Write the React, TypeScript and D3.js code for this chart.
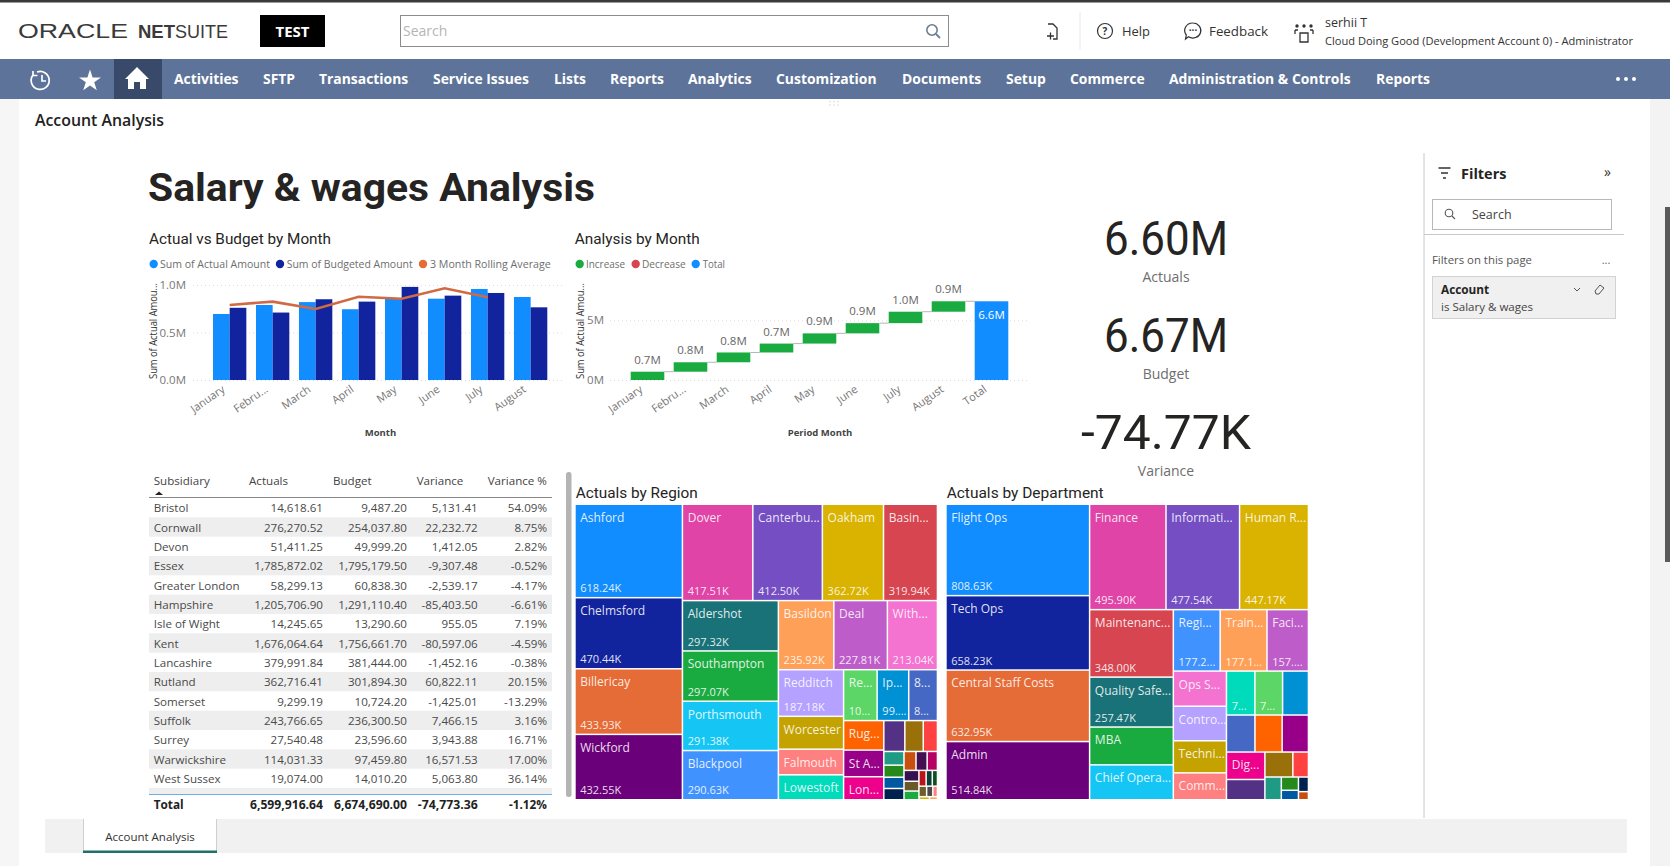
import { useEffect, useRef } from "react";
import {
  select,
  scaleLinear,
  scaleBand,
  axisLeft,
  axisBottom,
  line,
  symbol,
  symbolStar,
  hierarchy,
  treemap,
  treemapDice,
  treemapSlice,
  formatLocale,
} from "d3";

const UI_FONT = "'Open Sans', 'Noto Sans', sans-serif";
const DIN_FONT = "Roboto, sans-serif";

// ---- header ----
const navItems = ["Activities", "SFTP", "Transactions", "Service Issues", "Lists", "Reports", "Analytics", "Customization", "Documents", "Setup", "Commerce", "Administration & Controls", "Reports"];
const navStarts = [174, 263, 319, 433, 554, 610, 688, 776, 902, 1006, 1070, 1169, 1376];

// ---- column + line chart ----
const months = ["January", "February", "March", "April", "May", "June", "July", "August"];
const monthLabels = ["January", "Febru...", "March", "April", "May", "June", "July", "August"];
const actualAmounts = [695000, 790000, 820000, 745000, 855000, 856000, 958000, 874000];
const budgetAmounts = [760000, 710000, 850000, 825000, 980000, 888000, 916000, 765000];
const rollingAverage = [790000, 825000, 747000, 877000, 856000, 965000, 870000];

// ---- table ----
const subsidiaries = ["Bristol", "Cornwall", "Devon", "Essex", "Greater London", "Hampshire", "Isle of Wight", "Kent", "Lancashire", "Rutland", "Somerset", "Suffolk", "Surrey", "Warwickshire", "West Sussex"];
const tableActuals = [14618.61, 276270.52, 51411.25, 1785872.02, 58299.13, 1205706.9, 14245.65, 1676064.64, 379991.84, 362716.41, 9299.19, 243766.65, 27540.48, 114031.33, 19074.0];
const tableBudget = [9487.2, 254037.8, 49999.2, 1795179.5, 60838.3, 1291110.4, 13290.6, 1756661.7, 381444.0, 301894.3, 10724.2, 236300.5, 23596.6, 97459.8, 14010.2];
const tableVariance = [5131.41, 22232.72, 1412.05, -9307.48, -2539.17, -85403.5, 955.05, -80597.06, -1452.16, 60822.11, -1425.01, 7466.15, 3943.88, 16571.53, 5063.8];
const tablePct = [54.09, 8.75, 2.82, -0.52, -4.17, -6.61, 7.19, -4.59, -0.38, 20.15, -13.29, 3.16, 16.71, 17.0, 36.14];
const tableTotals = [6599916.64, 6674690.0, -74773.36];
const tableTotalPct = -1.12;

// ---- treemaps ----
const palette = ["#118DFF", "#12239E", "#E66C37", "#6B007B", "#E044A7", "#744EC2", "#D9B300", "#D64550", "#197278", "#1AAB40", "#15C6F4", "#4092FF", "#FFA058", "#BE5DC9", "#F472D0", "#B5A1FF", "#C4A200", "#FF8080", "#00DBBC", "#5BD667", "#0091D5", "#4668C5", "#FF6300", "#99008A", "#EC008C", "#533285", "#99700A", "#FF4141", "#1F9A85", "#25891C", "#0057A2", "#002050", "#C94F0F", "#450F54", "#B60064", "#34124F", "#6A5A29", "#1AAB40", "#BA141A", "#0C3D37", "#0B511F", "#6F5E2C", "#4A4A4A", "#FF8080", "#D9B300", "#FFA058"];

const regionNames = ["Ashford", "Chelmsford", "Billericay", "Wickford", "Dover", "Canterbu...", "Oakham", "Basin...", "Aldershot", "Southampton", "Porthsmouth", "Blackpool", "Basildon", "Deal", "With...", "Redditch", "Worcester", "Falmouth", "Lowestoft", "Re...", "Ip...", "8...", "Rug...", "St A...", "Lon..."];
const regionValues = [618.24, 470.44, 433.93, 432.55, 417.51, 412.5, 362.72, 319.94, 297.32, 297.07, 291.38, 290.63, 235.92, 227.81, 213.04, 187.18, 132, 103, 100, 105, 99, 90, 73, 66, 57, 40, 35, 27, 17, 15, 14, 14, 14, 13, 12, 10, 9, 8, 7, 6, 5, 5, 4, 3, 2, 1.5];
const regionValueLabels = ["618.24K", "470.44K", "433.93K", "432.55K", "417.51K", "412.50K", "362.72K", "319.94K", "297.32K", "297.07K", "291.38K", "290.63K", "235.92K", "227.81K", "213.04K", "187.18K", "", "", "", "10...", "99....", "8..."];
const regionStripSizes = [4, 4, 4, 3, 4, 3, 3, 3, 4, 3, 3, 3, 3, 2];
const regionStripDirs = ["col", "row", "col", "row", "col", "row", "col", "row", "col", "row", "col", "row", "row", "row"];

const departmentNames = ["Flight Ops", "Tech Ops", "Central Staff Costs", "Admin", "Finance", "Informati...", "Human R...", "Maintenanc...", "Quality Safe...", "MBA", "Chief Opera...", "Regi...", "Train...", "Faci...", "Ops S...", "Contro...", "Techni...", "Comm...", "", "", "", "", "", "", "Dig..."];
const departmentValues = [808.63, 658.23, 632.95, 514.84, 495.9, 477.54, 447.17, 348.0, 257.47, 195, 180, 177.2, 177.1, 157, 115, 113, 105, 88, 77, 75, 70, 65, 62, 60, 65, 48, 43, 24, 23, 14, 10, 9, 5];
const departmentValueLabels = ["808.63K", "658.23K", "632.95K", "514.84K", "495.90K", "477.54K", "447.17K", "348.00K", "257.47K", "", "", "177.2...", "177.1...", "157....", "", "", "", "", "7...", "7..."];
const departmentStripSizes = [4, 3, 4, 3, 4, 3, 3, 2, 2, 1, 2, 2];
const departmentStripDirs = ["col", "row", "col", "row", "col", "row", "row", "col", "row", "col", "col", "col"];

type TextOpts = { size?: number; weight?: number | string; fill?: string; anchor?: string; family?: string; len?: number; rotate?: number };
type Tile = { split?: string; name?: string; valueLabel?: string; color?: string; value?: number; children?: Tile[] };

const fmt = formatLocale({ decimal: ".", thousands: ",", grouping: [3], currency: ["", ""], minus: "-" });
const money = fmt.format(",.2f");
const pct = (d: number) => fmt.format(".2f")(d) + "%";

function put(g: any, x: number, y: number, str: string, o: TextOpts = {}) {
  const t = g
    .append("text")
    .attr("x", x)
    .attr("y", y)
    .attr("dy", "0.35em")
    .attr("font-family", o.family ?? UI_FONT)
    .attr("font-size", o.size ?? 12)
    .attr("font-weight", o.weight ?? 400)
    .attr("fill", o.fill ?? "#333")
    .attr("text-anchor", o.anchor ?? "start")
    .text(str);
  if (o.len) t.attr("textLength", o.len).attr("lengthAdjust", "spacingAndGlyphs");
  if (o.rotate) t.attr("transform", `rotate(${o.rotate} ${x} ${y})`);
  return t;
}

// builds nested strips (one column or row at a time) so d3.treemap lays them out like Power BI does
function buildTiles(names: string[], values: number[], valueLabels: string[], sizes: number[], dirs: string[]): Tile {
  const strips: Tile[] = [];
  let i = 0;
  sizes.forEach((n, s) => {
    const kids: Tile[] = [];
    for (let k = 0; k < n; k++, i++) {
      kids.push({ name: names[i] ?? "", valueLabel: valueLabels[i] ?? "", color: palette[i], value: values[i] });
    }
    strips.push({ split: dirs[s] === "col" ? "y" : "x", children: kids });
  });
  let node = strips[strips.length - 1];
  for (let s = strips.length - 2; s >= 0; s--) {
    node = { split: dirs[s] === "col" ? "x" : "y", children: [strips[s], node] };
  }
  return node;
}

function drawTreemap(svg: any, x: number, y: number, w: number, h: number, root: Tile) {
  const nodes = hierarchy<Tile>(root).sum((d) => d.value ?? 0);
  const layout = treemap<Tile>()
    .size([w, h])
    .paddingInner(1.5)
    .tile((node: any, x0, y0, x1, y1) => {
      (node.data.split === "x" ? treemapDice : treemapSlice)(node, x0, y0, x1, y1);
    });
  const g = svg.append("g").attr("transform", `translate(${x},${y})`);
  layout(nodes)
    .leaves()
    .forEach((d: any) => {
      g.append("rect")
        .attr("x", d.x0)
        .attr("y", d.y0)
        .attr("width", Math.max(0, d.x1 - d.x0))
        .attr("height", Math.max(0, d.y1 - d.y0))
        .attr("fill", d.data.color);
      if (d.data.name) put(g, d.x0 + 4.5, d.y0 + 12.5, d.data.name, { size: 12, fill: "#fff" }).attr("fill-opacity", 0.88);
      if (d.data.valueLabel) put(g, d.x0 + 4.5, d.y1 - 8.5, d.data.valueLabel, { size: 11, fill: "#fff" }).attr("fill-opacity", 0.88);
    });
}

function drawHeader(svg: any) {
  svg.append("rect").attr("width", 1670).attr("height", 866).attr("fill", "#fff");
  svg.append("rect").attr("width", 1670).attr("height", 2.5).attr("fill", "#3a3a3a");
  svg.append("rect").attr("y", 99).attr("width", 19).attr("height", 767).attr("fill", "#f6f6f7");
  svg.append("rect").attr("x", 1650).attr("y", 99).attr("width", 20).attr("height", 767).attr("fill", "#f3f3f4");
  svg.append("rect").attr("x", 1665).attr("y", 207).attr("width", 5).attr("height", 355).attr("fill", "#5a5a5a");

  put(svg, 18, 31, "ORACLE", { size: 21, len: 110, fill: "#3a3a3a", family: "'Liberation Sans', sans-serif" });
  put(svg, 138, 31, "NET", { size: 19, len: 37, weight: 700, fill: "#3a3a3a", family: "'Liberation Sans', sans-serif" });
  put(svg, 175, 31, "SUITE", { size: 19, len: 53, fill: "#3a3a3a", family: "'Liberation Sans', sans-serif" });

  svg.append("rect").attr("x", 260).attr("y", 15).attr("width", 65).attr("height", 32).attr("fill", "#000");
  put(svg, 292.5, 31.5, "TEST", { size: 15, weight: 700, fill: "#fff", anchor: "middle" });

  svg.append("rect").attr("x", 400.5).attr("y", 15.5).attr("width", 548).attr("height", 31).attr("fill", "#fff").attr("stroke", "#8c8c8c");
  put(svg, 403, 31, "Search", { size: 14, fill: "#b5b5b5" });
  svg.append("circle").attr("cx", 932).attr("cy", 30).attr("r", 5.2).attr("fill", "none").attr("stroke", "#6d7f8e").attr("stroke-width", 1.6);
  svg.append("line").attr("x1", 936).attr("y1", 34).attr("x2", 940).attr("y2", 38).attr("stroke", "#6d7f8e").attr("stroke-width", 1.8);

  // add-to-shortcuts icon
  svg.append("path").attr("d", "M1048 24 h5 l4 4 v11 h-4 M1047 36 h7 M1050.5 32.5 v7").attr("fill", "none").attr("stroke", "#333").attr("stroke-width", 1.3);
  svg.append("line").attr("x1", 1080).attr("y1", 12).attr("x2", 1080).attr("y2", 50).attr("stroke", "#e8e8e8");

  svg.append("circle").attr("cx", 1105).attr("cy", 31).attr("r", 7.5).attr("fill", "none").attr("stroke", "#333").attr("stroke-width", 1.2);
  put(svg, 1105, 31, "?", { size: 10, anchor: "middle", weight: 700 });
  put(svg, 1122, 31.5, "Help", { size: 13.5, fill: "#333", len: 28 });

  svg.append("path").attr("d", "M1193 23 a8 7.5 0 1 1 -4.5 13.8 l-3 2.2 l0.8 -4 a8 7.5 0 0 1 6.7 -12").attr("fill", "none").attr("stroke", "#333").attr("stroke-width", 1.2);
  put(svg, 1193, 30, "···", { size: 10, anchor: "middle", weight: 700 });
  put(svg, 1209, 31.5, "Feedback", { size: 13.5, fill: "#333", len: 59 });

  svg.append("path").attr("d", "M1300 33 h8 v9 h-8 z M1295 30 h3 M1295 30 v4 M1313 30 h-3 M1313 30 v4").attr("fill", "none").attr("stroke", "#333").attr("stroke-width", 1.3);
  [1297, 1304, 1311].forEach((cx) => svg.append("circle").attr("cx", cx).attr("cy", 26).attr("r", 1.7).attr("fill", "#333"));
  put(svg, 1325, 22.5, "serhii T", { size: 12.5, fill: "#333" });
  put(svg, 1325, 40.5, "Cloud Doing Good (Development Account 0) - Administrator", { size: 11.5, fill: "#333", len: 308 });

  svg.append("rect").attr("y", 59).attr("width", 1670).attr("height", 40).attr("fill", "#5d7399");
  svg.append("rect").attr("x", 114).attr("y", 59).attr("width", 48).attr("height", 40).attr("fill", "#39496a");

  svg.append("path").attr("d", "M33 75 a9 9 0 1 0 4 -3 M33 71 v4.5 h4.5 M42 75 v6 h4").attr("fill", "none").attr("stroke", "#fff").attr("stroke-width", 1.7);
  svg.append("path").attr("d", symbol().type(symbolStar).size(150)).attr("transform", "translate(90,81)").attr("fill", "#fff");
  svg.append("path").attr("d", "M137 67 l-12 12 h3 v10 h18 v-10 h3 z M134 82 h6 v7 h-6 z").attr("fill", "#fff").attr("fill-rule", "evenodd");

  navItems.forEach((item, i) => put(svg, navStarts[i], 79.5, item, { size: 13.9, weight: 700, fill: "#fff" }));
  [1618, 1626, 1634].forEach((cx) => svg.append("circle").attr("cx", cx).attr("cy", 79).attr("r", 2).attr("fill", "#fff"));

  // grip under the nav bar
  [830, 834, 838].forEach((cx) => [101.5, 105].forEach((cy) => svg.append("circle").attr("cx", cx).attr("cy", cy).attr("r", 0.7).attr("fill", "#cfcfcf")));

  put(svg, 35, 120.5, "Account Analysis", { size: 16, weight: 600, fill: "#222", len: 129 });
}

function drawLegend(svg: any, y: number, items: [string, string, number, number, number][]) {
  items.forEach(([label, color, cx, tx, len]) => {
    svg.append("circle").attr("cx", cx).attr("cy", y).attr("r", 4.2).attr("fill", color);
    put(svg, tx, y, label, { size: 11, fill: "#6e6e6e", len });
  });
}

function styleYAxis(g: any) {
  g.select(".domain").remove();
  g.selectAll(".tick line").attr("stroke", "#dcdcdc").attr("stroke-dasharray", "1,3");
  g.selectAll("text").attr("font-family", UI_FONT).attr("font-size", 11.5).attr("fill", "#777");
}

function styleXAxis(g: any) {
  g.select(".domain").remove();
  g.selectAll("text")
    .attr("font-family", UI_FONT)
    .attr("font-size", 11)
    .attr("fill", "#777")
    .attr("text-anchor", "end")
    .attr("y", 0)
    .attr("dy", 0)
    .attr("transform", "translate(-4,11) rotate(-35)");
}

function drawColumns(svg: any) {
  put(svg, 149, 239, "Actual vs Budget by Month", { size: 15, family: DIN_FONT, fill: "#252423", len: 182 });
  drawLegend(svg, 264, [
    ["Sum of Actual Amount", "#118DFF", 153.7, 160, 110],
    ["Sum of Budgeted Amount", "#12239E", 280, 286.7, 126],
    ["3 Month Rolling Average", "#E66C37", 423, 430, 120.7],
  ]);

  const x = scaleBand<string>().domain(months).range([213, 547.3]).paddingInner(0.225).paddingOuter(0);
  const sub = scaleBand<string>().domain(["actual", "budget"]).range([0, x.bandwidth()]);
  const y = scaleLinear().domain([0, 1000000]).range([380, 285]);

  svg
    .append("g")
    .attr("transform", "translate(193,0)")
    .call(axisLeft(y).tickValues([0, 500000, 1000000]).tickSize(-370).tickPadding(7).tickFormat((d: any) => (d / 1000000).toFixed(1) + "M"))
    .call(styleYAxis);

  const bars = svg.append("g");
  months.forEach((m, i) => {
    bars.append("rect").attr("x", x(m)!).attr("y", y(actualAmounts[i])).attr("width", sub.bandwidth()).attr("height", 380 - y(actualAmounts[i])).attr("fill", "#118DFF");
    bars.append("rect").attr("x", x(m)! + sub("budget")!).attr("y", y(budgetAmounts[i])).attr("width", sub.bandwidth()).attr("height", 380 - y(budgetAmounts[i])).attr("fill", "#12239E");
  });

  const rolling = line<number>()
    .x((_, i) => x(months[i])! + x.bandwidth() / 2)
    .y((d) => y(d));
  svg.append("path").attr("d", rolling(rollingAverage)).attr("fill", "none").attr("stroke", "#CF6A45").attr("stroke-width", 2.6);

  svg
    .append("g")
    .attr("transform", "translate(0,380)")
    .call(axisBottom(x).tickSize(0).tickFormat((_: any, i: number) => monthLabels[i]))
    .call(styleXAxis);

  put(svg, 153, 331, "Sum of Actual Amou...", { size: 10, fill: "#333", anchor: "middle", rotate: -90, len: 96 });
  put(svg, 380.5, 433, "Month", { size: 9.5, weight: 700, fill: "#444", anchor: "middle" });
}

function drawWaterfall(svg: any) {
  put(svg, 574.7, 239, "Analysis by Month", { size: 15, family: DIN_FONT, fill: "#252423", len: 125 });
  drawLegend(svg, 264, [
    ["Increase", "#1AAB40", 579.7, 586, 39],
    ["Decrease", "#D64550", 635.7, 642, 43.7],
    ["Total", "#118DFF", 695.7, 702.7, 22.3],
  ]);

  const cats = [...months, "Total"];
  const x = scaleBand<string>().domain(cats).range([630.7, 1008.3]).paddingInner(0.2186).paddingOuter(0);
  const y = scaleLinear().domain([0, 5000000]).range([380, 320.3]);

  svg
    .append("g")
    .attr("transform", "translate(610,0)")
    .call(axisLeft(y).tickValues([0, 5000000]).tickSize(-417).tickPadding(6).tickFormat((d: any) => d / 1000000 + "M"))
    .call(styleYAxis);

  const fmtM = (v: number) => (v / 1000000).toFixed(1) + "M";
  let running = 0;
  months.forEach((m, i) => {
    const start = running;
    running += actualAmounts[i];
    svg.append("rect").attr("x", x(m)!).attr("y", y(running)).attr("width", x.bandwidth()).attr("height", y(start) - y(running)).attr("fill", "#1AAB40");
    put(svg, x(m)! + x.bandwidth() / 2, y(running) - 12, fmtM(actualAmounts[i]), { size: 11.5, fill: "#666", anchor: "middle" });
    const next = cats[i + 1];
    svg.append("line").attr("x1", x(m)! + x.bandwidth()).attr("x2", x(next)!).attr("y1", y(running)).attr("y2", y(running)).attr("stroke", "#b5b5b5");
  });
  svg.append("rect").attr("x", x("Total")!).attr("y", y(running)).attr("width", x.bandwidth()).attr("height", 380 - y(running)).attr("fill", "#118DFF");
  put(svg, x("Total")! + x.bandwidth() / 2, y(running) + 14, fmtM(running), { size: 11.5, fill: "#fff", anchor: "middle" });

  svg
    .append("g")
    .attr("transform", "translate(0,380)")
    .call(axisBottom(x).tickSize(0).tickFormat((_: any, i: number) => (i < 8 ? monthLabels[i] : "Total")))
    .call(styleXAxis);

  put(svg, 580, 331, "Sum of Actual Amou...", { size: 10, fill: "#333", anchor: "middle", rotate: -90, len: 96 });
  put(svg, 820, 433, "Period Month", { size: 9.5, weight: 700, fill: "#444", anchor: "middle" });
}

function drawTable(svg: any) {
  const size = 11.6;
  const headerFill = "#444";
  const heads: [string, number][] = [["Subsidiary", 153.7], ["Actuals", 249], ["Budget", 333], ["Variance", 416.7], ["Variance %", 487.7]];
  heads.forEach(([h, hx]) => put(svg, hx, 480.5, h, { size, fill: headerFill }));
  svg.append("path").attr("d", "M155 495 l4 -3.5 l4 3.5 z").attr("fill", "#222");
  svg.append("line").attr("x1", 149).attr("x2", 552).attr("y1", 497.5).attr("y2", 497.5).attr("stroke", "#888");

  const rowY = scaleBand<number>().domain(subsidiaries.map((_, i) => i)).range([498, 788]);
  const rows = svg.append("g");
  subsidiaries.forEach((name, i) => {
    const ry = rowY(i)!;
    const cy = ry + rowY.bandwidth() / 2 + 0.5;
    if (i % 2 === 1) rows.append("rect").attr("x", 149).attr("y", ry).attr("width", 403).attr("height", rowY.bandwidth()).attr("fill", "#eeeeee");
    put(rows, 153.7, cy, name, { size, fill: "#4a4a4a" });
    put(rows, 323, cy, money(tableActuals[i]), { size, fill: "#4a4a4a", anchor: "end" });
    put(rows, 407, cy, money(tableBudget[i]), { size, fill: "#4a4a4a", anchor: "end" });
    put(rows, 477.7, cy, money(tableVariance[i]), { size, fill: "#4a4a4a", anchor: "end" });
    put(rows, 547, cy, pct(tablePct[i]), { size, fill: "#4a4a4a", anchor: "end" });
  });
  rows.append("rect").attr("x", 149).attr("y", 788).attr("width", 403).attr("height", 6).attr("fill", "#eeeeee");
  svg.append("line").attr("x1", 149).attr("x2", 552).attr("y1", 794.5).attr("y2", 794.5).attr("stroke", "#6db0e8");

  const bold = { size: 11.8, weight: 700, fill: "#222" };
  put(svg, 153.7, 805, "Total", bold);
  put(svg, 323, 805, money(tableTotals[0]), { ...bold, anchor: "end", len: 73 });
  put(svg, 407, 805, money(tableTotals[1]), { ...bold, anchor: "end", len: 73 });
  put(svg, 477.7, 805, money(tableTotals[2]), { ...bold, anchor: "end", len: 60 });
  put(svg, 547, 805, pct(tableTotalPct), { ...bold, anchor: "end" });

  svg.append("rect").attr("x", 566).attr("y", 472).attr("width", 5.5).attr("height", 325).attr("rx", 2.5).attr("fill", "#b4b4b4");
}

function drawKpis(svg: any) {
  const big = { size: 49, family: DIN_FONT, fill: "#252423", anchor: "middle" };
  const small = { size: 14, fill: "#6e6e6e", anchor: "middle" };
  put(svg, 1166, 238, "6.60M", { ...big, len: 124 });
  put(svg, 1166, 277, "Actuals", small);
  put(svg, 1166, 335, "6.67M", { ...big, len: 124 });
  put(svg, 1166, 374, "Budget", small);
  put(svg, 1166, 432, "-74.77K", { ...big, len: 170 });
  put(svg, 1166, 471, "Variance", small);
}

function drawFilters(svg: any) {
  svg.append("line").attr("x1", 1424).attr("x2", 1424).attr("y1", 153).attr("y2", 818).attr("stroke", "#c8c8c8");
  svg.append("path").attr("d", "M1438.5 168 h12 M1441 173 h7 M1443 178 h3").attr("stroke", "#333").attr("stroke-width", 1.3);
  put(svg, 1461, 173.5, "Filters", { size: 14.5, weight: 700, fill: "#252423" });
  put(svg, 1607.5, 172, "»", { size: 14, fill: "#333", anchor: "middle" });

  svg.append("rect").attr("x", 1432.5).attr("y", 199.5).attr("width", 179).attr("height", 30).attr("fill", "#fff").attr("stroke", "#b8b8b8");
  svg.append("circle").attr("cx", 1449).attr("cy", 213).attr("r", 3.8).attr("fill", "none").attr("stroke", "#555").attr("stroke-width", 1.1);
  svg.append("line").attr("x1", 1452).attr("y1", 216).attr("x2", 1455).attr("y2", 219).attr("stroke", "#555").attr("stroke-width", 1.1);
  put(svg, 1472, 214.5, "Search", { size: 12.5, fill: "#444" });
  svg.append("line").attr("x1", 1424).attr("x2", 1624).attr("y1", 234.5).attr("y2", 234.5).attr("stroke", "#c8c8c8");

  put(svg, 1432, 260, "Filters on this page", { size: 11.5, fill: "#555", len: 100 });
  put(svg, 1606, 260, "...", { size: 11, fill: "#666", anchor: "middle" });

  svg.append("rect").attr("x", 1432.5).attr("y", 276.5).attr("width", 183).attr("height", 42).attr("fill", "#f0f0f0").attr("stroke", "#d2d2d2");
  put(svg, 1441, 290, "Account", { size: 11.8, weight: 700, fill: "#252423" });
  put(svg, 1441, 306.5, "is Salary & wages", { size: 11.5, fill: "#444", len: 92 });
  svg.append("path").attr("d", "M1574 288 l3 3 l3 -3").attr("fill", "none").attr("stroke", "#555");
  svg.append("path").attr("d", "M1595 291 l5 -6 l4 3 l-5 6 h-3 z").attr("fill", "none").attr("stroke", "#555");

  // report tab strip
  svg.append("rect").attr("x", 45).attr("y", 819).attr("width", 1582).attr("height", 34).attr("fill", "#f1f1f2");
  svg.append("rect").attr("x", 83).attr("y", 819).attr("width", 133).attr("height", 34).attr("fill", "#fff");
  svg.append("line").attr("x1", 83.5).attr("x2", 83.5).attr("y1", 819).attr("y2", 853).attr("stroke", "#cfcfcf");
  svg.append("line").attr("x1", 216.5).attr("x2", 216.5).attr("y1", 819).attr("y2", 853).attr("stroke", "#cfcfcf");
  svg.append("rect").attr("x", 83).attr("y", 850.5).attr("width", 134).attr("height", 2.5).attr("fill", "#1f6f6a");
  put(svg, 150, 837, "Account Analysis", { size: 11.5, fill: "#333", anchor: "middle" });
}

export default function App() {
  const svgRef = useRef<SVGSVGElement>(null);

  useEffect(() => {
    const svg = select(svgRef.current);
    svg.selectAll("*").remove();

    drawHeader(svg);
    put(svg, 148, 187, "Salary & wages Analysis", { size: 39, weight: 700, family: DIN_FONT, fill: "#252423", len: 447 });
    drawColumns(svg);
    drawWaterfall(svg);
    drawKpis(svg);
    drawTable(svg);

    put(svg, 575.7, 493, "Actuals by Region", { size: 15, family: DIN_FONT, fill: "#252423", len: 122 });
    drawTreemap(svg, 575.7, 505, 361, 294, buildTiles(regionNames, regionValues, regionValueLabels, regionStripSizes, regionStripDirs));
    put(svg, 946.7, 493, "Actuals by Department", { size: 15, family: DIN_FONT, fill: "#252423", len: 157 });
    drawTreemap(svg, 946.7, 505, 361, 294, buildTiles(departmentNames, departmentValues, departmentValueLabels, departmentStripSizes, departmentStripDirs));

    drawFilters(svg);
  }, []);

  return <svg ref={svgRef} width={1670} height={866} style={{ position: "absolute", left: 0, top: 0, display: "block" }} />;
}
